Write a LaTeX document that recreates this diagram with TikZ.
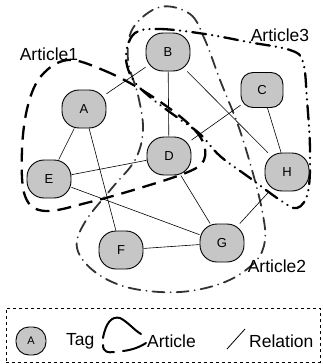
\documentclass[tikz,border=0pt]{standalone}
\usepackage{fontspec}
\setmainfont{Liberation Sans}
\begin{document}
\begin{tikzpicture}[x=1pt,y=-1pt,
  tag/.style={draw=black, line width=0.9pt, fill=gray!45, rectangle, rounded corners=17pt,
    minimum width=44pt, minimum height=38pt, inner sep=0pt, font=\fontsize{13}{13}\selectfont},
  rel/.style={line width=0.6pt},
  lbl/.style={font=\fontsize{17.5}{17.5}\selectfont, inner sep=0pt},
  artone/.style={line width=2.3pt, dash pattern=on 14pt off 8pt},
  arttwo/.style={line width=1.8pt, black!80, line cap=round, dash pattern=on 12pt off 6pt on 0.2pt off 6pt},
  artthree/.style={line width=2.3pt, line cap=round, dash pattern=on 14pt off 6pt on 0.2pt off 6pt on 0.2pt off 6pt}]
\useasboundingbox (0,0) rectangle (323,364);

% Article curves
\draw[artone] plot[smooth cycle, tension=0.6] coordinates {
  (68,60) (103,70) (142,90) (182,118) (202,140) (204,160) (188,172) (140,188)
  (90,202) (45,211) (25,196) (22,150) (28,105) (42,75)};
\draw[arttwo] plot[smooth cycle, tension=0.6] coordinates {
  (160,7) (190,14) (205,40) (220,80) (238,125) (252,170) (262,210) (265,240)
  (255,262) (225,282) (180,292) (130,288) (95,272) (77,248) (85,222) (112,188)
  (135,160) (143,130) (138,95) (128,60) (133,28)};
\draw[artthree] plot[smooth cycle, tension=0.6] coordinates {
  (135,33) (160,29) (205,34) (248,42) (290,50) (303,62) (307,100) (310,150)
  (308,192) (297,208) (280,200) (250,178) (220,156) (200,134) (178,118)
  (150,97) (132,78) (126,55)};

% Tags
\node[tag] (A) at (84,109) {A};
\node[tag] (B) at (168,52) {B};
\node[tag, rounded corners=12pt, minimum width=42pt, minimum height=35pt] (C) at (262,90) {C};
\node[tag] (D) at (169,156) {D};
\node[tag] (E) at (49,179) {E};
\node[tag] (F) at (121,250) {F};
\node[tag] (G) at (222,243) {G};
\node[tag] (H) at (287,172) {H};

% Relations
\draw[rel] (A) -- (B);
\draw[rel] (A) -- (E);
\draw[rel] (A) -- (F);
\draw[rel] (B) -- (D);
\draw[rel] (B) -- (H);
\draw[rel] (C) -- (D);
\draw[rel] (C) -- (H);
\draw[rel] (E) -- (D);
\draw[rel] (E) -- (G);
\draw[rel] (D) -- (G);
\draw[rel] (F) -- (G);
\draw[rel] (G) -- (H);

% Article labels
\node[lbl] (a1) at (49,54) {Article1};
\node[lbl] (a3) at (280,35) {Article3};
\node[lbl] (a2) at (277,266) {Article2};

% Legend
\node[draw, dashed, line width=0.5pt, minimum width=314pt, minimum height=54pt, inner sep=0pt] (leg) at (163,335) {};
\node[tag, minimum width=30pt, minimum height=28pt, rounded corners=13pt, font=\fontsize{11}{11}\selectfont] (lA) at (31,341) {A};
\node[lbl, anchor=west] (ltag) at (66,341) {Tag};
\draw[line width=2pt, line cap=round] (103,338) .. controls (106,322) and (112,316) .. (120,318) .. controls (128,322) and (134,330) .. (141,334);
\draw[line width=2pt, line cap=round] (103,345) .. controls (103,352) and (108,353) .. (114,352);
\draw[line width=2pt, line cap=round] (123,351) .. controls (132,350) and (140,347) .. (146,343);
\node[lbl, anchor=west] (lart) at (147,341) {Article};
\coordinate (r1) at (227,349);
\coordinate (r2) at (245,329);
\draw[line width=0.8pt] (r1) -- (r2);
\node[lbl, anchor=west] (lrel) at (249,341) {Relation};
\end{tikzpicture}
\end{document}
